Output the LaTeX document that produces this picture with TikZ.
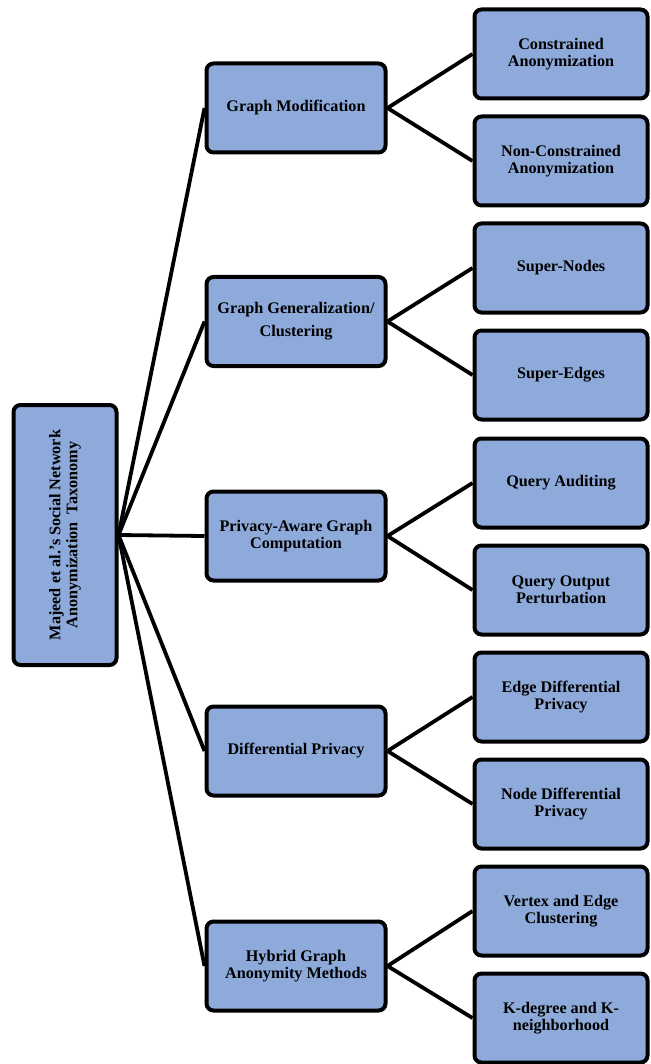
\documentclass[tikz,border=0pt]{standalone}
\usepackage{fontspec}
\setmainfont{Liberation Serif}
\definecolor{boxblue}{RGB}{142,170,219}
\tikzset{
  box/.style={draw=black, line width=4pt, fill=boxblue, rounded corners=7pt,
    font=\bfseries\fontsize{16.2}{17}\selectfont, align=center, inner sep=0pt},
  midbox/.style={box, minimum width=179pt, minimum height=89pt},
  leafbox/.style={box, minimum width=173pt, minimum height=89pt},
  conn/.style={line width=3.8pt, black}
}
\begin{document}
\begin{tikzpicture}[x=1pt,y=-1pt]
\useasboundingbox (0,0) rectangle (650,1064);
\node[box, minimum width=103pt, minimum height=260pt] (root) at (65,535) {};
\node[rotate=90, font=\bfseries\fontsize{16.2}{17}\selectfont, align=center] (roottext) at (65,535) {Majeed et al.’s Social Network\\Anonymization\ \ Taxonomy};

\node[midbox] (m1) at (296,108) {Graph Modification};
\node[midbox, font=\bfseries\fontsize{16.2}{23}\selectfont] (m2) at (296,321.5) {Graph Generalization/\\Clustering};
\node[midbox] (m3) at (296,536) {Privacy-Aware Graph\\Computation};
\node[midbox] (m4) at (296,751) {Differential Privacy};
\node[midbox] (m5) at (296,966) {Hybrid Graph\\Anonymity Methods};

\node[leafbox] (l1) at (561,54) {Constrained\\Anonymization};
\node[leafbox] (l2) at (561,161) {Non-Constrained\\Anonymization};
\node[leafbox] (l3) at (561,268) {Super-Nodes};
\node[leafbox] (l4) at (561,375) {Super-Edges};
\node[leafbox] (l5) at (561,483) {Query Auditing};
\node[leafbox] (l6) at (561,590) {Query Output\\Perturbation};
\node[leafbox] (l7) at (561,697) {Edge Differential\\Privacy};
\node[leafbox] (l8) at (561,804) {Node Differential\\Privacy};
\node[leafbox] (l9) at (561,911) {Vertex and Edge\\Clustering};
\node[leafbox] (l10) at (561,1018) {K-degree and K-\\neighborhood};

\foreach \m in {m1,m2,m3,m4,m5} \draw[conn] (root.east) -- (\m.west);
\draw[conn] (m1.east) -- (l1.west);
\draw[conn] (m1.east) -- (l2.west);
\draw[conn] (m2.east) -- (l3.west);
\draw[conn] (m2.east) -- (l4.west);
\draw[conn] (m3.east) -- (l5.west);
\draw[conn] (m3.east) -- (l6.west);
\draw[conn] (m4.east) -- (l7.west);
\draw[conn] (m4.east) -- (l8.west);
\draw[conn] (m5.east) -- (l9.west);
\draw[conn] (m5.east) -- (l10.west);
\end{tikzpicture}
\end{document}
